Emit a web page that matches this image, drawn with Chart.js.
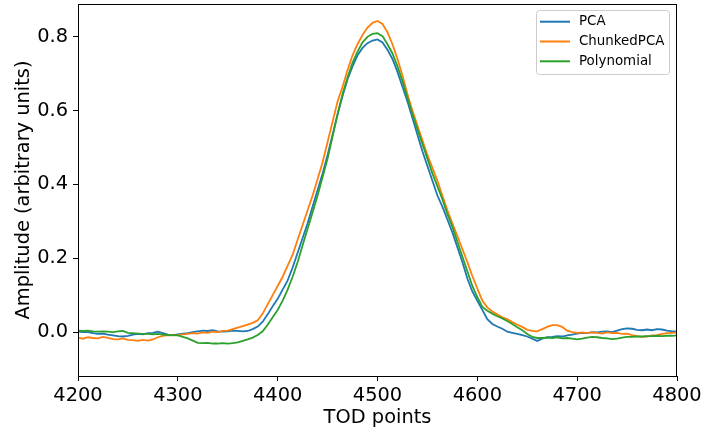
<!DOCTYPE html>
<html>
<head>
<meta charset="utf-8">
<script src="https://cdn.jsdelivr.net/npm/chart.js@4/dist/chart.umd.min.js"></script>
<style>
  html, body { margin: 0; padding: 0; background: #fff; }
  canvas { display: block; }
</style>
</head>
<body>
<canvas id="chart" width="704" height="432"></canvas>
<script>
// TOD sample positions
const tod = [
    4200, 4205, 4210, 4215, 4220, 4225, 4230, 4235, 4240, 4245, 4250, 4255, 4260, 4265, 4270, 4275,
    4280, 4285, 4290, 4295, 4300, 4305, 4310, 4315, 4320, 4325, 4330, 4335, 4340, 4345, 4350, 4355,
    4360, 4365, 4370, 4375, 4380, 4385, 4390, 4395, 4400, 4405, 4410, 4415, 4420, 4425, 4430, 4435,
    4440, 4445, 4450, 4455, 4460, 4465, 4470, 4475, 4480, 4485, 4490, 4495, 4500, 4505, 4510, 4515,
    4520, 4525, 4530, 4535, 4540, 4545, 4550, 4555, 4560, 4565, 4570, 4575, 4580, 4585, 4590, 4595,
    4600, 4605, 4610, 4615, 4620, 4625, 4630, 4635, 4640, 4645, 4650, 4655, 4660, 4665, 4670, 4675,
    4680, 4685, 4690, 4695, 4700, 4705, 4710, 4715, 4720, 4725, 4730, 4735, 4740, 4745, 4750, 4755,
    4760, 4765, 4770, 4775, 4780, 4785, 4790, 4795, 4800,
];

const pca = [
    0.001, 0.0, 0.0, -0.003, -0.005, -0.004, -0.007, -0.009, -0.011, -0.012, -0.01, -0.007, -0.005, -0.006, -0.003, -0.002,
    0.001, -0.003, -0.007, -0.008, -0.006, -0.004, -0.003, 0.0, 0.002, 0.004, 0.003, 0.005, 0.002, 0.001, 0.002, 0.004,
    0.003, 0.002, 0.003, 0.008, 0.015, 0.028, 0.048, 0.07, 0.09, 0.115, 0.14, 0.175, 0.215, 0.255, 0.295, 0.34,
    0.385, 0.43, 0.48, 0.535, 0.59, 0.64, 0.685, 0.72, 0.75, 0.77, 0.783, 0.79, 0.793, 0.785, 0.765, 0.74,
    0.705, 0.665, 0.625, 0.58, 0.535, 0.49, 0.45, 0.41, 0.37, 0.34, 0.305, 0.27, 0.23, 0.19, 0.145, 0.11,
    0.085, 0.06, 0.035, 0.022, 0.015, 0.009, 0.001, -0.002, -0.005, -0.008, -0.012, -0.018, -0.024, -0.018, -0.014, -0.013,
    -0.011, -0.012, -0.009, -0.007, -0.004, -0.002, -0.003, 0.0, -0.001, 0.001, 0.002, 0.0, 0.004, 0.008, 0.01, 0.009,
    0.006, 0.005, 0.007, 0.005, 0.008, 0.007, 0.004, 0.002, 0.002,
];

const chunkedPca = [
    -0.015, -0.018, -0.014, -0.016, -0.017, -0.013, -0.016, -0.019, -0.02, -0.017, -0.021, -0.022, -0.024, -0.021, -0.023, -0.02,
    -0.014, -0.01, -0.008, -0.009, -0.008, -0.006, -0.005, -0.003, -0.004, -0.001, -0.002, 0.001, 0.0, 0.003, 0.004, 0.008,
    0.012, 0.016, 0.02, 0.025, 0.032, 0.05, 0.075, 0.1, 0.125, 0.15, 0.18, 0.21, 0.25, 0.29, 0.33, 0.37,
    0.415, 0.46, 0.515, 0.57, 0.625, 0.665, 0.71, 0.75, 0.78, 0.805, 0.825, 0.838, 0.843, 0.835, 0.812, 0.78,
    0.74, 0.695, 0.645, 0.6, 0.56, 0.52, 0.48, 0.445, 0.41, 0.37, 0.33, 0.295, 0.26, 0.225, 0.19, 0.152,
    0.118, 0.085, 0.067, 0.056, 0.048, 0.04, 0.035, 0.027, 0.02, 0.014, 0.006, 0.003, 0.002, 0.008, 0.014, 0.019,
    0.019, 0.014, 0.004, 0.0, -0.002, -0.001, -0.003, -0.001, -0.002, -0.004, -0.001, -0.003, -0.002, -0.005, -0.004, -0.008,
    -0.011, -0.013, -0.012, -0.009, -0.008, -0.005, -0.003, -0.002, -0.001,
];

const polynomial = [
    0.004, 0.003, 0.004, 0.002, 0.001, 0.002, 0.001, 0.0, 0.002, 0.003, -0.002, -0.003, -0.004, -0.005, -0.005, -0.006,
    -0.005, -0.007, -0.008, -0.008, -0.009, -0.013, -0.017, -0.023, -0.029, -0.03, -0.029, -0.031, -0.031, -0.03, -0.031, -0.03,
    -0.028, -0.024, -0.02, -0.015, -0.008, 0.002, 0.02, 0.04, 0.06, 0.085, 0.115, 0.15, 0.19, 0.235, 0.28, 0.325,
    0.37, 0.42, 0.47, 0.53, 0.59, 0.645, 0.69, 0.73, 0.76, 0.785, 0.8, 0.808, 0.81, 0.802, 0.78, 0.755,
    0.72, 0.68, 0.635, 0.59, 0.55, 0.51, 0.47, 0.43, 0.395, 0.36, 0.32, 0.285, 0.245, 0.205, 0.165, 0.125,
    0.095, 0.068, 0.058, 0.05, 0.043, 0.037, 0.03, 0.022, 0.013, 0.005, -0.005, -0.013, -0.016, -0.016, -0.015, -0.016,
    -0.014, -0.017, -0.016, -0.018, -0.02, -0.018, -0.015, -0.013, -0.014, -0.016, -0.017, -0.019, -0.018, -0.015, -0.013, -0.013,
    -0.012, -0.012, -0.011, -0.011, -0.01, -0.011, -0.01, -0.01, -0.009,
];

const labels = ["PCA", "ChunkedPCA", "Polynomial"];
const colors = ["#1f77b4", "#ff7f0e", "#2ca02c"];
const xTicks = [4200, 4300, 4400, 4500, 4600, 4700, 4800];
const yTicks = [0.0, 0.2, 0.4, 0.6, 0.8];

const FONT = "'DejaVu Sans', sans-serif";

function toPoints(ys) {
    return tod.map((x, i) => ({ x: x, y: ys[i] }));
}

// box round the plot and the legend in the upper right corner
const frameAndLegend = {
    id: "frameAndLegend",
    afterDraw(chart) {
        const ctx = chart.ctx;
        const a = chart.chartArea;
        ctx.save();
        ctx.strokeStyle = "#000";
        ctx.lineWidth = 1;
        ctx.strokeRect(a.left + 0.5, a.top + 0.5, a.right - a.left - 1, a.bottom - a.top);

        const w = 133, h = 64;
        const bx = a.right - 8 - w, by = a.top + 6;
        ctx.beginPath();
        ctx.roundRect(bx + 0.5, by + 0.5, w, h, 3);
        ctx.fillStyle = "rgba(255,255,255,0.8)";
        ctx.fill();
        ctx.strokeStyle = "#cccccc";
        ctx.stroke();

        ctx.font = "13.4px " + FONT;
        ctx.textBaseline = "middle";
        ctx.textAlign = "left";
        chart.data.datasets.forEach((ds, i) => {
            const cy = by + 11.7 + i * 19.8;
            ctx.beginPath();
            ctx.moveTo(bx + 4, cy);
            ctx.lineTo(bx + 34, cy);
            ctx.strokeStyle = ds.borderColor;
            ctx.lineWidth = 2;
            ctx.stroke();
            ctx.fillStyle = "#000";
            ctx.fillText(ds.label, bx + 43, cy);
        });
        ctx.restore();
    },
};

const series = [pca, chunkedPca, polynomial];

const ctx = document.getElementById("chart").getContext("2d");
const myChart = new Chart(ctx, {
    type: "line",
    data: {
        datasets: series.map((ys, i) => ({
            label: labels[i],
            data: toPoints(ys),
            borderColor: colors[i],
            backgroundColor: colors[i],
            borderWidth: 1.8,
            pointRadius: 0,
            tension: 0,
            order: 3 - i,
        })),
    },
    options: {
        responsive: false,
        animation: false,
        layout: {
            padding: { top: 4, right: 27, left: 0, bottom: 0 },
        },
        plugins: {
            legend: { display: false },
            tooltip: { enabled: false },
        },
        scales: {
            x: {
                type: "linear",
                min: 4200,
                max: 4800,
                afterFit: (scale) => {
                    scale.height = 56;
                    scale.paddingLeft = 0;
                    scale.paddingRight = 0;
                },
                afterBuildTicks: (scale) => { scale.ticks = xTicks.map((v) => ({ value: v })); },
                grid: { display: true, drawOnChartArea: false, drawTicks: true, tickLength: 5, color: "#000" },
                border: { display: true, color: "#000", width: 1 },
                ticks: {
                    color: "#000",
                    padding: 3,
                    maxRotation: 0,
                    font: { family: FONT, size: 19.4 },
                    callback: (v) => String(v),
                },
                title: {
                    display: true,
                    text: "TOD points",
                    color: "#000",
                    font: { family: FONT, size: 19.4 },
                    padding: { top: 0, bottom: 2 },
                },
            },
            y: {
                type: "linear",
                min: -0.119,
                max: 0.889,
                afterFit: (scale) => {
                    scale.width = 78;
                    scale.paddingTop = 0;
                    scale.paddingBottom = 0;
                },
                afterBuildTicks: (scale) => { scale.ticks = yTicks.map((v) => ({ value: v })); },
                grid: { display: true, drawOnChartArea: false, drawTicks: true, tickLength: 5, color: "#000" },
                border: { display: true, color: "#000", width: 1 },
                ticks: {
                    color: "#000",
                    padding: 5,
                    font: { family: FONT, size: 19.4 },
                    callback: (v) => v.toFixed(1),
                },
                title: {
                    display: true,
                    text: "Amplitude (arbitrary units)",
                    color: "#000",
                    font: { family: FONT, size: 19.4 },
                    padding: { top: 12, bottom: 0 },
                },
            },
        },
    },
    plugins: [frameAndLegend],
});
</script>
</body>
</html>
